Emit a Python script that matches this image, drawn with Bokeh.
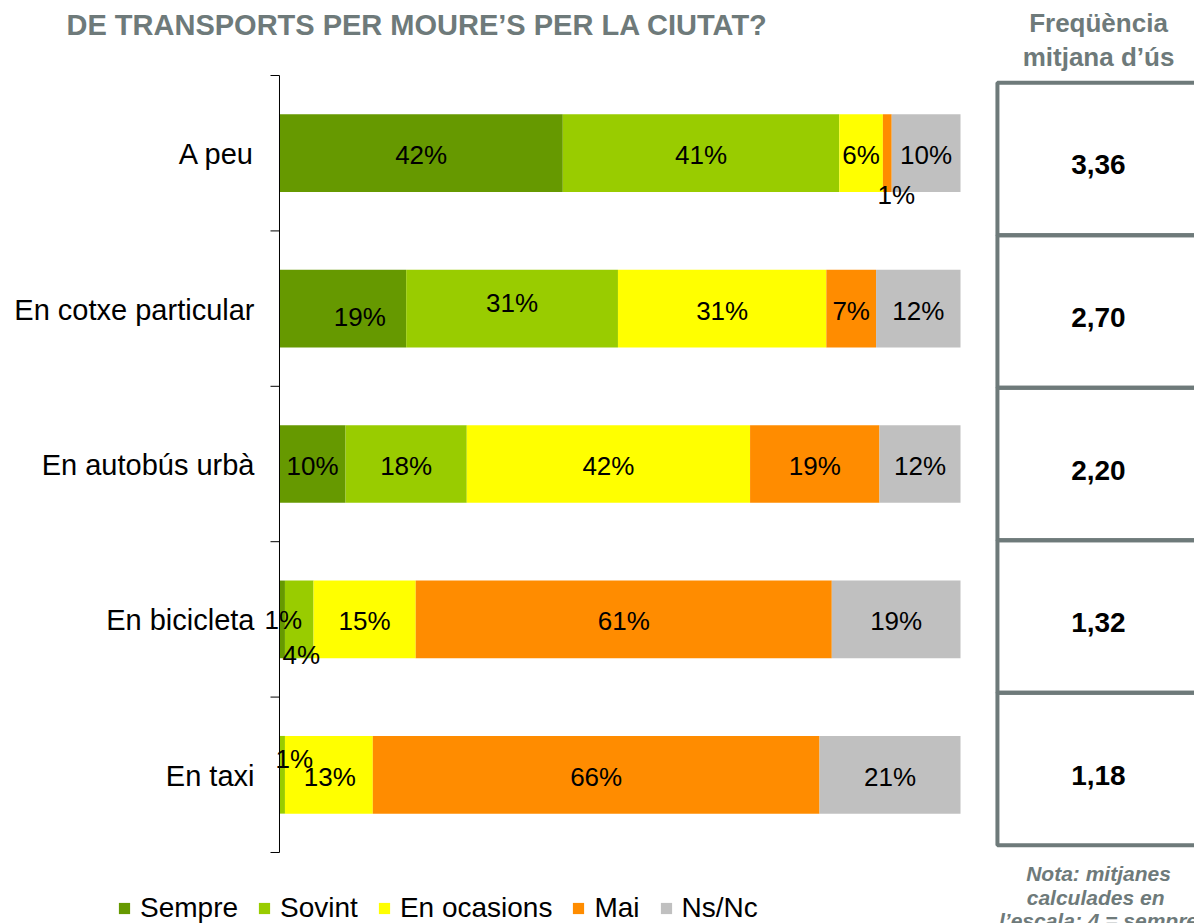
from bokeh.plotting import figure
from bokeh.models import ColumnDataSource, Range1d, FactorRange, Label, Legend, LegendItem
from bokeh.transform import dodge
from bokeh.layouts import row
from bokeh.embed import file_html
from bokeh.resources import INLINE
from bokeh.core.properties import value

# ---------------- data ----------------
categories = ["A peu", "En cotxe particular", "En autobús urbà", "En bicicleta", "En taxi"]
series = ["Sempre", "Sovint", "En ocasions", "Mai", "Ns/Nc"]
sempre = [41.6, 18.6, 9.7, 0.8, 0.0]
sovint = [40.6, 31.1, 17.8, 4.2, 0.8]
ocasions = [6.4, 30.6, 41.6, 15.0, 12.9]
mai = [1.3, 7.3, 19.0, 61.1, 65.6]
nsnc = [10.1, 12.4, 11.9, 18.9, 20.7]
freq = [3.36, 2.70, 2.20, 1.32, 1.18]

title_text = "DE TRANSPORTS PER MOURE’S PER LA CIUTAT?"
header_lines = ["Freqüència", "mitjana d’ús"]
note_lines = ["Nota: mitjanes", "calculades  en", "l’escala: 4 = sempre"]

# ---------------- styles ----------------
colors = ["#669900", "#99CC00", "#FFFF00", "#FF8C00", "#C0C0C0"]
gray = "#6e7a7a"
FONT = "Liberation Sans"
H = 923
# label nudges in screen pixels (Excel overlap avoidance)
nudges = {
    ("A peu", "Mai"): (9, 42),
    ("En cotxe particular", "Sempre"): (17, 8),
    ("En cotxe particular", "Sovint"): (0, -6),
    ("En cotxe particular", "En ocasions"): (0, 2),
    ("En bicicleta", "Sempre"): (1, 1),
    ("En bicicleta", "Sovint"): (2, 36),
    ("En taxi", "Sovint"): (12, -16),
    ("En taxi", "En ocasions"): (1, 2),
}

values = {"Sempre": sempre, "Sovint": sovint, "En ocasions": ocasions, "Mai": mai, "Ns/Nc": nsnc}
rev = categories[::-1]


def bare(fig):
    fig.outline_line_color = None
    fig.grid.visible = False
    fig.axis.visible = False
    fig.background_fill_color = None
    fig.border_fill_color = "white"


# ---------------- main chart (frame = nearly whole canvas) ----------------
p = figure(width=990, height=H, output_backend="svg", toolbar_location=None,
           x_range=Range1d(-40.969, 104.405),
           y_range=FactorRange(factors=rev, range_padding=0.457, range_padding_units="absolute"),
           min_border_left=0, min_border_right=0, min_border_top=4, min_border_bottom=0)
bare(p)

src = ColumnDataSource(dict(cat=categories, **values))
renderers = p.hbar_stack(series, y="cat", height=0.5, color=colors, line_color=None, source=src)

# category labels (axis labels)
p.text(x=0, y="cat", text="cat", x_offset=-25, y_offset=1, source=src,
       text_align="right", text_baseline="middle", text_font=value(FONT),
       text_font_size="29px", text_color="black")

# data labels
lx, ly, lt, xo, yo = [], [], [], [], []
for i, c in enumerate(categories):
    left = 0.0
    for s in series:
        v = values[s][i]
        if round(v) > 0:
            lx.append(left + v / 2)
            ly.append(c)
            lt.append(f"{round(v)}%")
            dx, dy = nudges.get((c, s), (0, 2))
            xo.append(dx)
            yo.append(dy)
        left += v
lsrc = ColumnDataSource(dict(x=lx, cat=ly, text=lt, xo=xo, yo=yo))
p.text(x="x", y="cat", text="text", x_offset="xo", y_offset="yo", source=lsrc,
       text_align="center", text_baseline="middle", text_font=value(FONT),
       text_font_size="26px", text_color="black")

# axis line and boundary ticks
tsrc = ColumnDataSource(dict(cat=categories))
p.segment(x0=-1.32, x1=0, y0=dodge("cat", -0.5, range=p.y_range),
          y1=dodge("cat", -0.5, range=p.y_range), source=tsrc, line_color="black", line_width=1)
esrc = ColumnDataSource(dict(top=[categories[0]], bottom=[categories[-1]]))
p.segment(x0=-1.32, x1=0, y0=dodge("top", 0.5, range=p.y_range),
          y1=dodge("top", 0.5, range=p.y_range), source=esrc, line_color="black", line_width=1)
p.segment(x0=0, x1=0, y0=dodge("top", 0.5, range=p.y_range),
          y1=dodge("bottom", -0.5, range=p.y_range), source=esrc, line_color="black", line_width=1)

# title
p.add_layout(Label(x=66, y=H - 24, x_units="screen", y_units="screen", text=title_text,
                   text_font=FONT, text_font_size="29px", text_font_style="bold",
                   text_color=gray, text_baseline="middle", text_align="left"))

# legend
legend = Legend(items=[LegendItem(label=s, renderers=[r]) for s, r in zip(series, renderers)],
                location=(117, -1), orientation="horizontal",
                glyph_width=14, glyph_height=14, label_standoff=9, spacing=19,
                padding=0, margin=0, border_line_color=None, background_fill_alpha=0,
                label_text_font=FONT, label_text_font_size="28px", label_text_color="black")
p.add_layout(legend, "center")

# ---------------- frequency table ----------------
q = figure(width=204, height=H, output_backend="svg", toolbar_location=None,
           x_range=Range1d(0, 1),
           y_range=FactorRange(factors=rev, range_padding=0.5124, range_padding_units="absolute"),
           min_border_left=0, min_border_right=0, min_border_top=0, min_border_bottom=0)
bare(q)

fsrc = ColumnDataSource(dict(cat=categories, txt=[f"{v:.2f}".replace(".", ",") for v in freq]))
q.rect(x=0.634, y="cat", width=1.2, height=1, source=fsrc, fill_color=None,
       line_color=gray, line_width=4)
q.text(x=0.529, y="cat", text="txt", y_offset=6, source=fsrc, text_align="center",
       text_baseline="middle", text_font=value(FONT), text_font_size="28px",
       text_font_style="bold", text_color="black")

for t, yy in zip(header_lines, [H - 22, H - 56]):
    q.add_layout(Label(x=108, y=yy, x_units="screen", y_units="screen", text=t,
                       text_font=FONT, text_font_size="26px", text_font_style="bold",
                       text_color=gray, text_align="center", text_baseline="middle"))
for t, yy in zip(note_lines, [H - 873, H - 897, H - 920]):
    q.add_layout(Label(x=108, y=yy, x_units="screen", y_units="screen", text=t,
                       text_font=FONT, text_font_size="21px", text_font_style="bold italic",
                       text_color=gray, text_align="center", text_baseline="middle"))

layout = row(p, q)
open("out.html", "w").write(file_html(layout, INLINE))
